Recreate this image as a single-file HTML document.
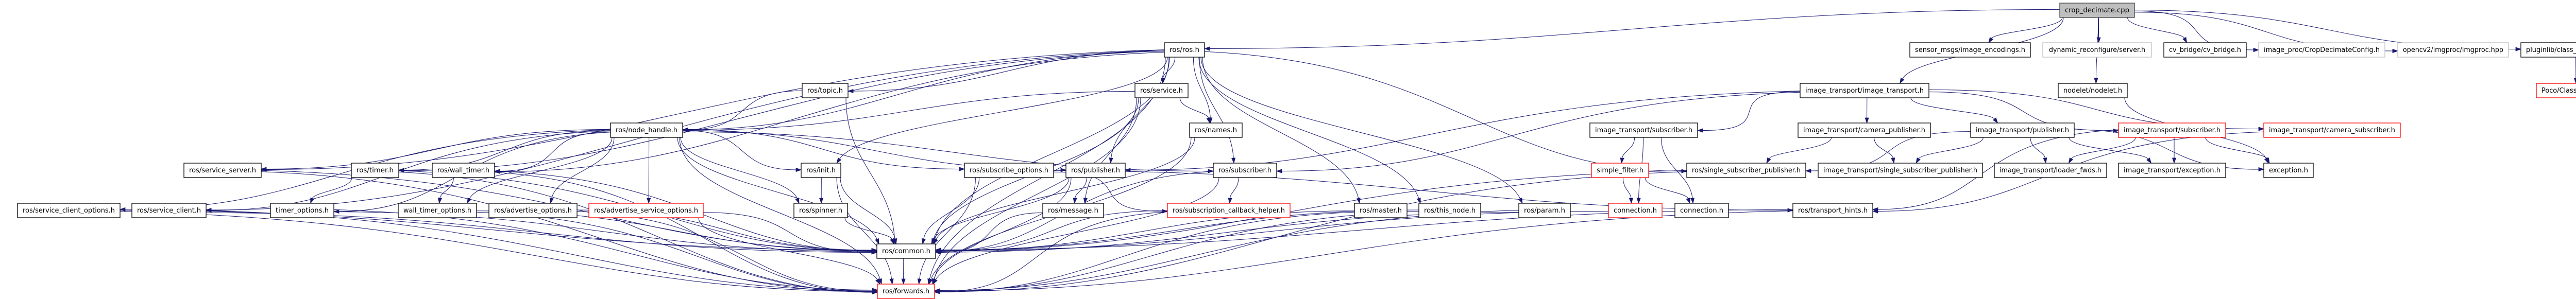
<!DOCTYPE html>
<html><head><meta charset="utf-8"><style>
html,body{margin:0;padding:0;background:#fff;}
svg{display:block;}
text{font-family:"DejaVu Sans","Liberation Sans",sans-serif;font-size:13px;fill:#000;text-anchor:middle;}
rect{fill:#fff;stroke:#000;stroke-width:1.3;}
rect.g{stroke:#bfbfbf;}
rect.r{stroke:#ff0000;}
rect.f{fill:#bfbfbf;stroke:#404040;}
path.e{fill:none;stroke:#191970;stroke-width:1;}
polygon.a{fill:#191970;stroke:#191970;stroke-width:0.8;}
</style></head><body>
<svg id="s" width="5102" height="581" viewBox="0 0 5102 581" xmlns="http://www.w3.org/2000/svg">
<g id="edges"></g>
<g id="nodes">
<g id="crop"><rect class="f" x="3998" y="6" width="145" height="28"/><text x="4070.5" y="24" textLength="125" lengthAdjust="spacingAndGlyphs">crop_decimate.cpp</text></g>
<g id="ros"><rect x="2260" y="83" width="78" height="28"/><text x="2299" y="101" textLength="58" lengthAdjust="spacingAndGlyphs">ros/ros.h</text></g>
<g id="sensor"><rect x="3707" y="83" width="234" height="28"/><text x="3824" y="101" textLength="214" lengthAdjust="spacingAndGlyphs">sensor_msgs/image_encodings.h</text></g>
<g id="dynrec"><rect class="g" x="3965" y="83" width="211" height="28"/><text x="4070.5" y="101" textLength="187" lengthAdjust="spacingAndGlyphs">dynamic_reconfigure/server.h</text></g>
<g id="cvb"><rect x="4200" y="83" width="160" height="28"/><text x="4280" y="101" textLength="140" lengthAdjust="spacingAndGlyphs">cv_bridge/cv_bridge.h</text></g>
<g id="ipc"><rect class="g" x="4384" y="83" width="245" height="28"/><text x="4506.5" y="101" textLength="225" lengthAdjust="spacingAndGlyphs">image_proc/CropDecimateConfig.h</text></g>
<g id="ocv"><rect class="g" x="4654" y="83" width="215" height="28"/><text x="4761.5" y="101" textLength="195" lengthAdjust="spacingAndGlyphs">opencv2/imgproc/imgproc.hpp</text></g>
<g id="plug"><rect x="4893" y="83" width="203" height="28"/><text x="4994.5" y="101" textLength="183" lengthAdjust="spacingAndGlyphs">pluginlib/class_list_macros.h</text></g>
<g id="topic"><rect x="1557" y="162" width="89" height="28"/><text x="1601.5" y="180" textLength="69" lengthAdjust="spacingAndGlyphs">ros/topic.h</text></g>
<g id="service"><rect x="2203" y="162" width="103" height="28"/><text x="2254.5" y="180" textLength="83" lengthAdjust="spacingAndGlyphs">ros/service.h</text></g>
<g id="itit"><rect x="3494" y="162" width="250" height="28"/><text x="3619" y="180" textLength="230" lengthAdjust="spacingAndGlyphs">image_transport/image_transport.h</text></g>
<g id="nodelet"><rect x="3995" y="162" width="134" height="28"/><text x="4062" y="180" textLength="114" lengthAdjust="spacingAndGlyphs">nodelet/nodelet.h</text></g>
<g id="poco"><rect class="r" x="4923" y="162" width="144" height="28"/><text x="4995" y="180" textLength="124" lengthAdjust="spacingAndGlyphs">Poco/ClassLibrary.h</text></g>
<g id="nh"><rect x="1185" y="239" width="140" height="28"/><text x="1255" y="257" textLength="120" lengthAdjust="spacingAndGlyphs">ros/node_handle.h</text></g>
<g id="names"><rect x="2309" y="239" width="102" height="28"/><text x="2360" y="257" textLength="82" lengthAdjust="spacingAndGlyphs">ros/names.h</text></g>
<g id="itsub"><rect x="3086" y="239" width="209" height="28"/><text x="3190.5" y="257" textLength="189" lengthAdjust="spacingAndGlyphs">image_transport/subscriber.h</text></g>
<g id="itcp"><rect x="3490" y="239" width="257" height="28"/><text x="3618.5" y="257" textLength="237" lengthAdjust="spacingAndGlyphs">image_transport/camera_publisher.h</text></g>
<g id="itpub"><rect x="3825" y="239" width="201" height="28"/><text x="3925.5" y="257" textLength="181" lengthAdjust="spacingAndGlyphs">image_transport/publisher.h</text></g>
<g id="itsubr"><rect class="r" x="4112" y="239" width="208" height="28"/><text x="4216" y="257" textLength="188" lengthAdjust="spacingAndGlyphs">image_transport/subscriber.h</text></g>
<g id="itcs"><rect class="r" x="4394" y="239" width="265" height="28"/><text x="4526.5" y="257" textLength="245" lengthAdjust="spacingAndGlyphs">image_transport/camera_subscriber.h</text></g>
<g id="ss"><rect x="357" y="317" width="150" height="28"/><text x="432" y="335" textLength="130" lengthAdjust="spacingAndGlyphs">ros/service_server.h</text></g>
<g id="timer"><rect x="682" y="317" width="92" height="28"/><text x="728" y="335" textLength="72" lengthAdjust="spacingAndGlyphs">ros/timer.h</text></g>
<g id="wtimer"><rect x="839" y="317" width="121" height="28"/><text x="899.5" y="335" textLength="101" lengthAdjust="spacingAndGlyphs">ros/wall_timer.h</text></g>
<g id="init"><rect x="1555" y="317" width="77" height="28"/><text x="1593.5" y="335" textLength="57" lengthAdjust="spacingAndGlyphs">ros/init.h</text></g>
<g id="subopt"><rect x="1872" y="317" width="173" height="28"/><text x="1958.5" y="335" textLength="153" lengthAdjust="spacingAndGlyphs">ros/subscribe_options.h</text></g>
<g id="pub"><rect x="2069" y="317" width="115" height="28"/><text x="2126.5" y="335" textLength="95" lengthAdjust="spacingAndGlyphs">ros/publisher.h</text></g>
<g id="sub"><rect x="2355" y="317" width="123" height="28"/><text x="2416.5" y="335" textLength="103" lengthAdjust="spacingAndGlyphs">ros/subscriber.h</text></g>
<g id="sf"><rect class="r" x="3089" y="317" width="111" height="28"/><text x="3144.5" y="335" textLength="91" lengthAdjust="spacingAndGlyphs">simple_filter.h</text></g>
<g id="rssp"><rect x="3274" y="317" width="231" height="28"/><text x="3389.5" y="335" textLength="211" lengthAdjust="spacingAndGlyphs">ros/single_subscriber_publisher.h</text></g>
<g id="itssp"><rect x="3529" y="317" width="319" height="28"/><text x="3688.5" y="335" textLength="299" lengthAdjust="spacingAndGlyphs">image_transport/single_subscriber_publisher.h</text></g>
<g id="lf"><rect x="3871" y="317" width="218" height="28"/><text x="3980" y="335" textLength="198" lengthAdjust="spacingAndGlyphs">image_transport/loader_fwds.h</text></g>
<g id="itex"><rect x="4112" y="317" width="208" height="28"/><text x="4216" y="335" textLength="188" lengthAdjust="spacingAndGlyphs">image_transport/exception.h</text></g>
<g id="ex"><rect x="4394" y="317" width="96" height="28"/><text x="4442" y="335" textLength="76" lengthAdjust="spacingAndGlyphs">exception.h</text></g>
<g id="sco"><rect x="34" y="395" width="199" height="28"/><text x="133.5" y="413" textLength="179" lengthAdjust="spacingAndGlyphs">ros/service_client_options.h</text></g>
<g id="sc"><rect x="256" y="395" width="144" height="28"/><text x="328" y="413" textLength="124" lengthAdjust="spacingAndGlyphs">ros/service_client.h</text></g>
<g id="to"><rect x="525" y="395" width="123" height="28"/><text x="586.5" y="413" textLength="103" lengthAdjust="spacingAndGlyphs">timer_options.h</text></g>
<g id="wto"><rect x="773" y="395" width="152" height="28"/><text x="849" y="413" textLength="132" lengthAdjust="spacingAndGlyphs">wall_timer_options.h</text></g>
<g id="ao"><rect x="949" y="395" width="171" height="28"/><text x="1034.5" y="413" textLength="151" lengthAdjust="spacingAndGlyphs">ros/advertise_options.h</text></g>
<g id="aso"><rect class="r" x="1143" y="395" width="222" height="28"/><text x="1254" y="413" textLength="202" lengthAdjust="spacingAndGlyphs">ros/advertise_service_options.h</text></g>
<g id="spin"><rect x="1541" y="395" width="104" height="28"/><text x="1593" y="413" textLength="84" lengthAdjust="spacingAndGlyphs">ros/spinner.h</text></g>
<g id="msg"><rect x="2024" y="395" width="118" height="28"/><text x="2083" y="413" textLength="98" lengthAdjust="spacingAndGlyphs">ros/message.h</text></g>
<g id="sch"><rect class="r" x="2266" y="395" width="238" height="28"/><text x="2385" y="413" textLength="218" lengthAdjust="spacingAndGlyphs">ros/subscription_callback_helper.h</text></g>
<g id="master"><rect x="2629" y="395" width="102" height="28"/><text x="2680" y="413" textLength="82" lengthAdjust="spacingAndGlyphs">ros/master.h</text></g>
<g id="thisn"><rect x="2754" y="395" width="120" height="28"/><text x="2814" y="413" textLength="100" lengthAdjust="spacingAndGlyphs">ros/this_node.h</text></g>
<g id="param"><rect x="2948" y="395" width="100" height="28"/><text x="2998" y="413" textLength="80" lengthAdjust="spacingAndGlyphs">ros/param.h</text></g>
<g id="conr"><rect class="r" x="3122" y="395" width="104" height="28"/><text x="3174" y="413" textLength="84" lengthAdjust="spacingAndGlyphs">connection.h</text></g>
<g id="conb"><rect x="3251" y="395" width="104" height="28"/><text x="3303" y="413" textLength="84" lengthAdjust="spacingAndGlyphs">connection.h</text></g>
<g id="th"><rect x="3480" y="395" width="155" height="28"/><text x="3557.5" y="413" textLength="135" lengthAdjust="spacingAndGlyphs">ros/transport_hints.h</text></g>
<g id="common"><rect x="1702" y="474" width="114" height="28"/><text x="1759" y="492" textLength="94" lengthAdjust="spacingAndGlyphs">ros/common.h</text></g>
<g id="fwd"><rect class="r" x="1703" y="552" width="111" height="28"/><text x="1758.5" y="570" textLength="91" lengthAdjust="spacingAndGlyphs">ros/forwards.h</text></g>
</g>
</svg>
<script>
(function(){
var E=("crop>ros,crop>sensor,crop>dynrec,crop>cvb,crop>ipc,crop>ocv,crop>plug,crop>itit,crop>nodelet,"+
"ros>nh,ros>topic,ros>service,ros>names,ros>pub,ros>sub,ros>init,ros>common,ros>ss,ros>timer,ros>wtimer,ros>sc,ros>master,ros>thisn,ros>param,ros>rssp,ros>fwd,"+
"service>nh,service>names,service>msg,service>common,service>fwd,topic>nh,topic>common,"+
"nh>ss,nh>timer,nh>wtimer,nh>sco,nh>sc,nh>to,nh>wto,nh>ao,nh>aso,nh>init,nh>spin,nh>subopt,nh>pub,nh>sub,nh>common,nh>fwd,"+
"names>common,names>fwd,init>spin,init>common,init>fwd,subopt>common,subopt>fwd,subopt>th,subopt>sch,"+
"pub>msg,pub>common,pub>fwd,sub>sch,sub>common,sub>fwd,ss>common,ss>fwd,timer>to,timer>common,timer>fwd,wtimer>wto,wtimer>common,wtimer>fwd,"+
"sco>common,sco>fwd,sc>common,sc>fwd,to>common,to>fwd,wto>common,wto>fwd,ao>common,ao>fwd,aso>common,aso>fwd,spin>common,msg>common,sch>common,sch>fwd,"+
"common>fwd,master>common,master>fwd,thisn>common,thisn>fwd,param>common,param>fwd,"+
"itit>itsub,itit>itcp,itit>itpub,itit>itsubr,itit>itcs,itit>pub,itit>sub,itsub>sf,itsub>conb,itsub>conr,sf>conr,sf>conb,"+
"itcp>rssp,itcp>itssp,itpub>rssp,itpub>itssp,itpub>lf,itpub>itex,itpub>ex,itsubr>lf,itsubr>itex,itsubr>ex,nodelet>ex,plug>poco,"+
"rssp>common,rssp>fwd,th>common,th>fwd,itcs>th,itsubr>th,conr>common").split(',');
function B(id){var r=document.querySelector('#'+id+' rect');var x=+r.getAttribute('x'),y=+r.getAttribute('y'),w=+r.getAttribute('width'),h=+r.getAttribute('height');return {x:x,y:y,w:w,h:h,cx:x+w/2,cy:y+h/2};}
function cl(v,a,b){return Math.max(a,Math.min(b,v));}
var G=document.getElementById('edges'),out='';
E.forEach(function(e,i){
 var p=e.split('>'),s=B(p[0]),t=B(p[1]);
 var dx=t.cx-s.cx,dy=t.y-(s.y+s.h);
 var sx,sy,tx,ty,c1x,c1y,c2x,c2y;
 var jit=((i*37)%11-5);
 if(Math.abs(dx)>Math.max(4*dy,s.w/2+t.w/2+150)){
  sx=dx>0?s.x+s.w:s.x; sy=s.y+s.h*0.55+jit*0.6;
  tx=dx>0?t.x:t.x+t.w; ty=t.y+t.h*0.5+jit*0.5;
  if(dy>120){c1x=sx+dx*0.45;c1y=sy+(ty-sy)*0.1;c2x=tx-dx*0.35;c2y=ty;}
  else {c1x=sx+dx*0.4;c1y=sy;c2x=tx-dx*0.4;c2y=ty;}
 } else {
  sx=s.cx+cl(dx*0.3,-s.w/2+6,s.w/2-6)+jit; sy=s.y+s.h;
  tx=t.cx+cl(-dx*0.15,-t.w/2+8,t.w/2-8)+jit; ty=t.y;
  c1x=sx;c1y=sy+dy*0.45;c2x=tx-(tx-sx)*0.1;c2y=ty-dy*0.45;
 }
 var ax=tx-c2x,ay=ty-c2y,L=Math.sqrt(ax*ax+ay*ay)||1;ax/=L;ay/=L;
 var ex=tx-ax*10,ey=ty-ay*10;
 out+='<path class="e" d="M'+sx.toFixed(1)+','+sy.toFixed(1)+' C'+c1x.toFixed(1)+','+c1y.toFixed(1)+' '+c2x.toFixed(1)+','+c2y.toFixed(1)+' '+ex.toFixed(1)+','+ey.toFixed(1)+'"/>';
 var px=-ay*3.5,py=ax*3.5;
 out+='<polygon class="a" points="'+tx.toFixed(1)+','+ty.toFixed(1)+' '+(ex+px).toFixed(1)+','+(ey+py).toFixed(1)+' '+(ex-px).toFixed(1)+','+(ey-py).toFixed(1)+'"/>';
});
G.innerHTML=out;
})();
</script>
</body></html>
